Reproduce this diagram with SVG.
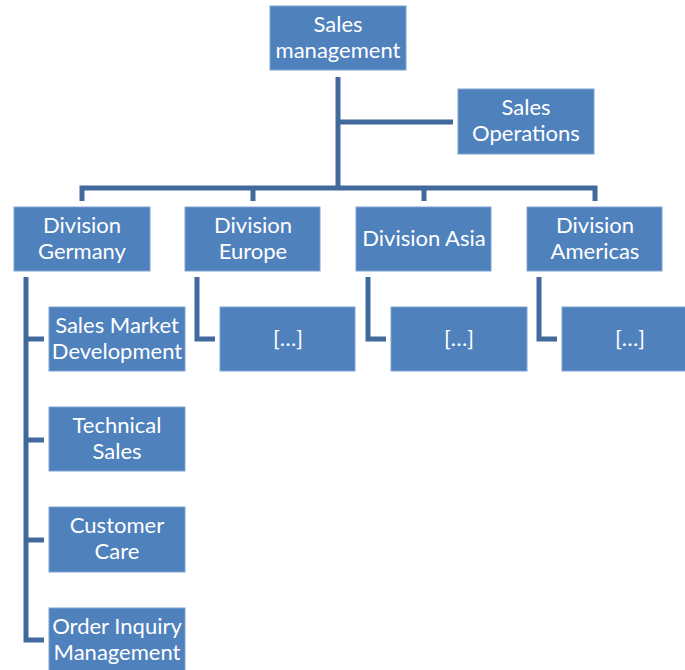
<svg xmlns="http://www.w3.org/2000/svg" width="685" height="670" viewBox="0 0 685 670">
  <style>
    .box { fill: #4F81BD; stroke: #7FA3D3; stroke-width: 1; }
    .lbl { fill: #FFFFFF; font-family: Lato, "Open Sans", "Liberation Sans", sans-serif; font-size: 22px; text-anchor: middle; }
    .conn { fill: none; stroke: #41699B; stroke-width: 5; stroke-linejoin: miter; }
  </style>
  <rect width="685" height="670" fill="#FFFFFF"/>

  <!-- connectors -->
  <g id="connectors" class="conn">
    <path d="M338 77 V188"/>
    <path d="M338 122 H453"/>
    <path d="M82 201 V188 H595 V201"/>
    <path d="M253 188 V201"/>
    <path d="M424 188 V201"/>
    <path d="M26 277 V640 H44"/>
    <path d="M26 339 H44"/>
    <path d="M26 440 H44"/>
    <path d="M26 540 H44"/>
    <path d="M197 277 V339 H215"/>
    <path d="M368 277 V339 H386"/>
    <path d="M539 277 V339 H557"/>
  </g>

  <g id="sales-management">
    <rect class="box" x="270" y="6" width="136" height="64"/>
    <text class="lbl" x="338" y="32">Sales</text>
    <text class="lbl" x="338" y="58">management</text>
  </g>
  <g id="sales-operations">
    <rect class="box" x="458" y="89" width="136" height="65"/>
    <text class="lbl" x="526" y="115">Sales</text>
    <text class="lbl" x="526" y="141">Operations</text>
  </g>

  <g id="division-germany">
    <rect class="box" x="14" y="207" width="136" height="64"/>
    <text class="lbl" x="82" y="233">Division</text>
    <text class="lbl" x="82" y="259">Germany</text>
  </g>
  <g id="division-europe">
    <rect class="box" x="185" y="207" width="135" height="64"/>
    <text class="lbl" x="253" y="233">Division</text>
    <text class="lbl" x="253" y="259">Europe</text>
  </g>
  <g id="division-asia">
    <rect class="box" x="356" y="207" width="135" height="64"/>
    <text class="lbl" x="424" y="246">Division Asia</text>
  </g>
  <g id="division-americas">
    <rect class="box" x="527" y="207" width="135" height="64"/>
    <text class="lbl" x="595" y="233">Division</text>
    <text class="lbl" x="595" y="259">Americas</text>
  </g>

  <g id="sales-market-development">
    <rect class="box" x="49" y="307" width="136" height="64"/>
    <text class="lbl" x="117" y="333">Sales Market</text>
    <text class="lbl" x="117" y="359">Development</text>
  </g>
  <g id="technical-sales">
    <rect class="box" x="49" y="407" width="136" height="64"/>
    <text class="lbl" x="117" y="433">Technical</text>
    <text class="lbl" x="117" y="459">Sales</text>
  </g>
  <g id="customer-care">
    <rect class="box" x="49" y="507" width="136" height="65"/>
    <text class="lbl" x="117" y="533">Customer</text>
    <text class="lbl" x="117" y="559">Care</text>
  </g>
  <g id="order-inquiry-management">
    <rect class="box" x="49" y="608" width="136" height="64"/>
    <text class="lbl" x="117" y="634">Order Inquiry</text>
    <text class="lbl" x="117" y="660">Management</text>
  </g>

  <g id="europe-sub">
    <rect class="box" x="220" y="307" width="135" height="64"/>
    <text class="lbl" x="288" y="346">[…]</text>
  </g>
  <g id="asia-sub">
    <rect class="box" x="391" y="307" width="136" height="64"/>
    <text class="lbl" x="459" y="346">[…]</text>
  </g>
  <g id="americas-sub">
    <rect class="box" x="562" y="307" width="135" height="64"/>
    <text class="lbl" x="630" y="346">[…]</text>
  </g>
</svg>
